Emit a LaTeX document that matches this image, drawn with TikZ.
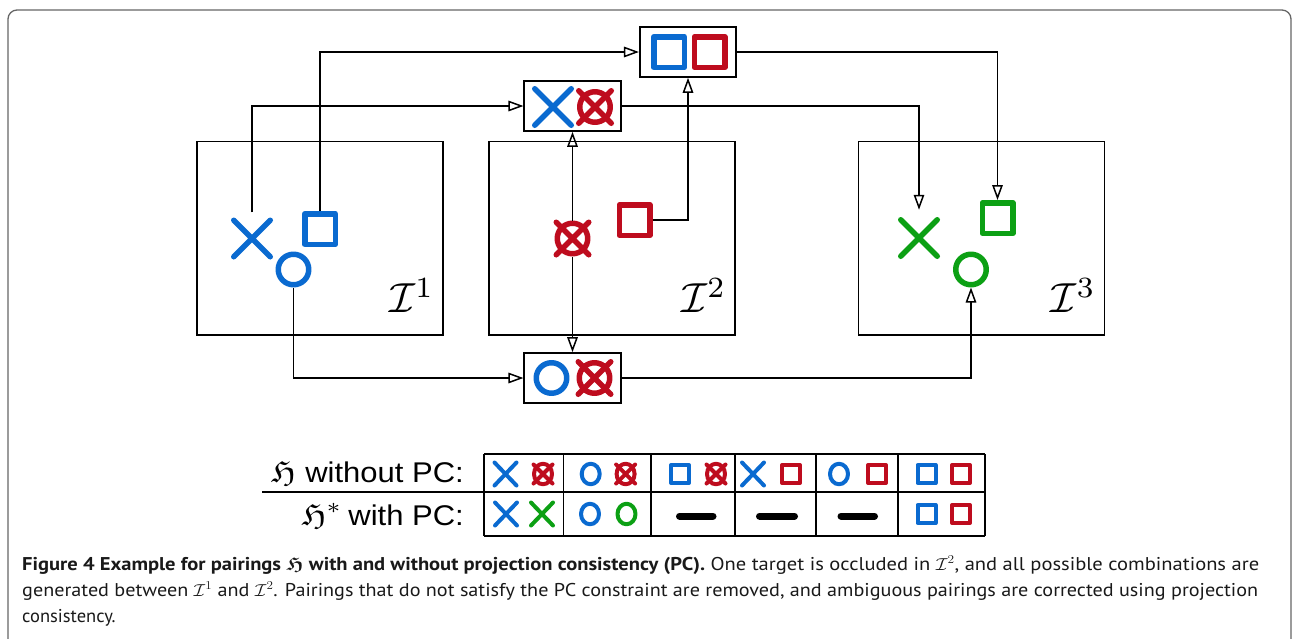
\documentclass[tikz,border=0pt]{standalone}
\usepackage{amssymb}
\usepackage{graphicx}
\usepackage{fontspec}
\setmainfont{PT Sans}
\newfontfamily\arialfont{Liberation Sans}
\usetikzlibrary{arrows.meta,shapes.misc,shapes.geometric}
\definecolor{cblue}{RGB}{10,106,208}
\definecolor{cred}{RGB}{190,12,30}
\definecolor{cgreen}{RGB}{12,160,20}
\begin{document}
\begin{tikzpicture}[x=1pt,y=-1pt,
  conn/.style={line width=1.6pt,-{Triangle[open,length=15pt,width=10.5pt,line width=1.5pt]}},
  box/.style={draw,line width=1.6pt,inner sep=0pt},
  imgbox/.style={box,minimum width=246pt,minimum height=193.5pt},
  pairbox/.style={box,minimum width=96.5pt,minimum height=50pt},
  bsym/.style={draw,line width=5.5pt,inner sep=0pt,line cap=round,line join=round},
  sq/.style={bsym,rectangle,minimum size=30.5pt},
  ci/.style={bsym,circle,minimum size=30.5pt},
  xx/.style={bsym,cross out,minimum size=31pt},
  xs/.style={bsym,cross out,minimum size=27pt},
  tsym/.style={draw,line width=4pt,inner sep=0pt,line cap=round,line join=round},
  tsq/.style={tsym,rectangle,minimum size=18pt},
  tci/.style={tsym,ellipse,minimum width=18pt,minimum height=20.5pt},
  txx/.style={tsym,cross out,minimum width=18pt,minimum height=19pt},
  txs/.style={tsym,cross out,minimum size=15pt},
  tline/.style={line width=1.5pt},
  dashbar/.style={line width=7pt,line cap=round},
  lbl/.style={anchor=base east,inner sep=0pt},
  capline/.style={anchor=base west,inner sep=0pt,text=black!90}]
\useasboundingbox (0,0) rectangle (1294,638);
% frame
\draw[black!60,line width=1.3pt,rounded corners=9pt] (8,660) -- (8,10) -- (1291,10) -- (1291,660);
% image boxes
\node[imgbox] (I1) at (320,238.4) {};
\node[imgbox] (I2) at (611.8,238.4) {};
\node[imgbox] (I3) at (981.5,238.4) {};
\node[lbl] (L1) at (434.5,312.5) {\scalebox{4.2}{$\mathcal{I}^1$}};
\node[lbl] (L2) at (726.5,312.5) {\scalebox{4.2}{$\mathcal{I}^2$}};
\node[lbl] (L3) at (1096,312.5) {\scalebox{4.2}{$\mathcal{I}^3$}};
% pairing boxes
\node[pairbox] (top) at (688,52) {};
\node[pairbox] (mid) at (572.5,106) {};
\node[pairbox] (bot) at (572.5,378) {};
% symbols in I1
\node[xx,cblue] (x1) at (252,238.5) {};
\node[sq,cblue] (s1) at (320,229) {};
\node[ci,cblue] (o1) at (293.5,269.5) {};
% symbols in I2
\node[ci,cred] (o2) at (572.5,238.5) {};
\node[xs,cred] (o2x) at (572.5,238.5) {};
\node[sq,cred] (s2) at (634.5,220) {};
% symbols in I3
\node[xx,cgreen] (x3) at (919,238) {};
\node[sq,cgreen] (s3) at (997.5,218) {};
\node[ci,cgreen] (o3) at (971,269.5) {};
% symbols in pair boxes
\node[sq,cblue] (ts1) at (669,52) {};
\node[sq,cred] (ts2) at (709.5,52) {};
\node[xx,cblue] (mx) at (553,107) {};
\node[ci,cred] (mo) at (595,107) {};
\node[xs,cred] (mox) at (595,107) {};
\node[ci,cblue] (bo) at (551.5,378) {};
\node[ci,cred] (bo2) at (594.5,378) {};
\node[xs,cred] (bo2x) at (594.5,378) {};
% connectors
\draw[conn] ([yshift=8pt]x1.north) |- (mid.west);
\draw[conn] (s1.north) |- (top.west);
\draw[conn] (o1.south) |- (bot.west);
\draw[conn] (o2.north) -- (mid.south);
\draw[conn] (o2.south) -- (bot.north);
\draw[conn] (s2.east) -| (top.south);
\draw[conn] (mid.east) -| ([yshift=10pt]x3.north);
\draw[conn] (top.east) -| (s3.north);
\draw[conn] (bot.east) -| (o3.south);
% table
\draw[tline] (484,454) -- (985,454);
\draw[tline] (262,492) -- (985,492);
\draw[tline] (484,536) -- (985,536);
\foreach \xv in {484,563.5,651,735,816,898,985} \draw[tline] (\xv,454) -- (\xv,536);
\node[lbl] (h1) at (464,482) {\scalebox{3.1}[2.85]{\scalebox{1.1}{$\mathfrak{H}$}\hspace{3pt}\arialfont without PC:}};
\node[lbl] (h2) at (464,525) {\scalebox{3.1}[2.85]{\scalebox{1.1}{$\mathfrak{H}^*$}\hspace{2pt}\arialfont with PC:}};
% row 1
\node[txx,cblue] (a1) at (505.5,474) {};
\node[tci,cred] (a2) at (543,474) {};
\node[txs,cred] (a2x) at (543,474) {};
\node[tci,cblue] (b1) at (590.7,474) {};
\node[tci,cred] (b2) at (625.6,474) {};
\node[txs,cred] (b2x) at (625.6,474) {};
\node[tsq,cblue] (c1) at (680,474) {};
\node[tci,cred] (c2) at (716,474) {};
\node[txs,cred] (c2x) at (716,474) {};
\node[txx,cblue] (d1) at (753,474) {};
\node[tsq,cred] (d2) at (791,474) {};
\node[tci,cblue] (e1) at (839,474) {};
\node[tsq,cred] (e2) at (877,474) {};
\node[tsq,cblue] (f1) at (926.6,474) {};
\node[tsq,cred] (f2) at (961,474) {};
% row 2
\node[txx,cblue] (a3) at (506,514) {};
\node[txx,cgreen] (a4) at (542,514) {};
\node[tci,cblue] (b3) at (590,514) {};
\node[tci,cgreen] (b4) at (626.5,514) {};
\draw[dashbar] (679.5,516) -- (713,516);
\draw[dashbar] (759.5,516) -- (794.5,516);
\draw[dashbar] (841,516) -- (874.5,516);
\node[tsq,cblue] (f3) at (926.6,514) {};
\node[tsq,cred] (f4) at (961,514) {};
% caption
\node[capline] (cap1) at (22,570) {\resizebox{1237pt}{\height}{\fontsize{18.5}{22}\selectfont\textbf{\boldmath Figure 4 Example for pairings $\mathfrak{H}$ with and without projection consistency (PC).} One target is occluded in $\mathcal{I}^2$, and all possible combinations are}};
\node[capline] (cap2) at (22,596) {\resizebox{1236pt}{\height}{\fontsize{18.5}{22}\selectfont generated between $\mathcal{I}^1$ and $\mathcal{I}^2$. Pairings that do not satisfy the PC constraint are removed, and ambiguous pairings are corrected using projection}};
\node[capline] (cap3) at (22,622.5) {\fontsize{18.5}{22}\selectfont consistency.};
\end{tikzpicture}
\end{document}
